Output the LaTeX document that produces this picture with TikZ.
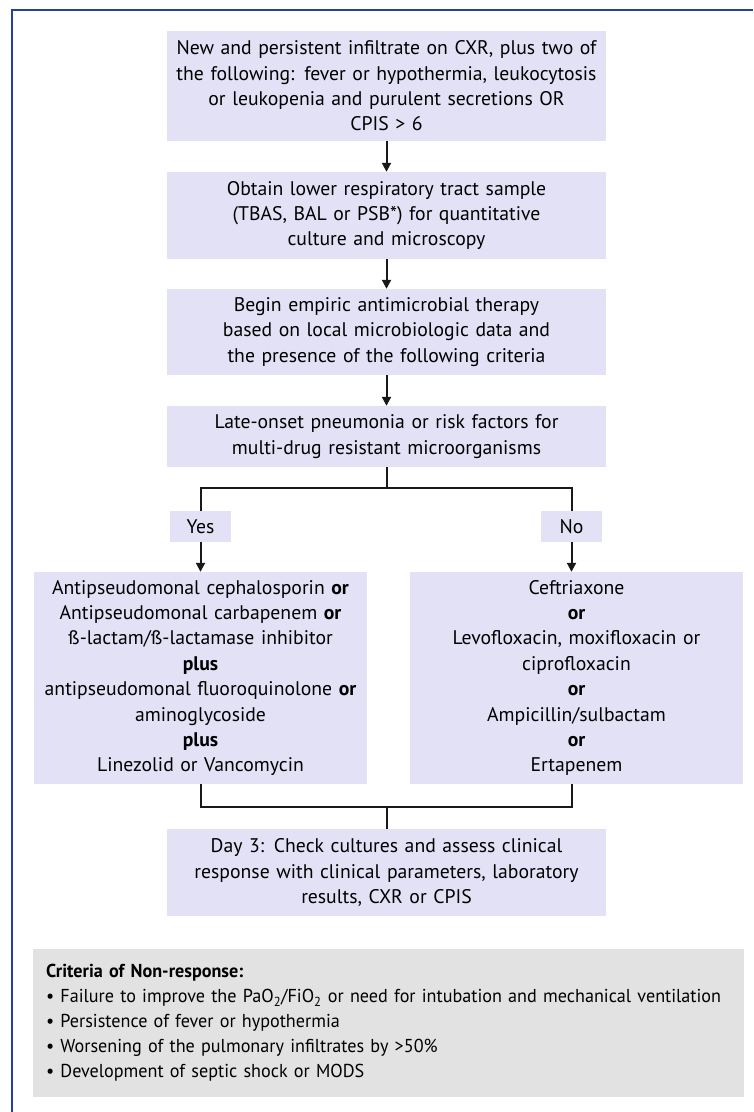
\documentclass[tikz,border=0pt]{standalone}
\usepackage{fontspec}
\setmainfont[WordSpace=0.82]{PT Sans}
\newfontfamily\condfont[FakeStretch=0.97,WordSpace=0.82]{PT Sans}
\usetikzlibrary{arrows.meta,calc}
\definecolor{boxfill}{RGB}{227,225,245}
\definecolor{grayfill}{RGB}{225,226,225}
\definecolor{frameblue}{RGB}{42,62,155}
\begin{document}
\begin{tikzpicture}[x=1pt,y=-1pt,
  flowbox/.style={fill=boxfill,inner sep=0pt,align=center,font=\fontsize{19.7}{25.4}\selectfont},
  tag/.style={fill=boxfill,inner sep=0pt,minimum width=61pt,minimum height=31pt,font=\fontsize{19.7}{22}\selectfont},
  conn/.style={line width=2pt,black!90},
  arr/.style={conn,-{Triangle[length=9pt,width=9pt]}}]
\useasboundingbox (0,0) rectangle (753,1112);
% frame
\draw[frameblue,line width=2.6pt] (12,1112) -- (12,10) -- (753,10);
% nodes
\node[flowbox,minimum width=439pt,minimum height=110pt,text width=436pt] (b1) at (386.5,86)
  {New and persistent infiltrate on CXR, plus two of\\the following: fever or hypothermia, leukocytosis\\or leukopenia and purulent secretions OR\\CPIS > 6};
\node[flowbox,minimum width=439pt,minimum height=87pt,text width=436pt] (b2) at (386.5,215.5)
  {Obtain lower respiratory tract sample\\(TBAS, BAL or PSB*) for quantitative\\culture and microscopy};
\node[flowbox,minimum width=439pt,minimum height=86pt,text width=436pt] (b3) at (386.5,332)
  {Begin empiric antimicrobial therapy\\based on local microbiologic data and\\the presence of the following criteria};
\node[flowbox,minimum width=439pt,minimum height=61pt,text width=436pt] (b4) at (386.5,436.5)
  {Late-onset pneumonia or risk factors for\\multi-drug resistant microorganisms};
\node[tag] (yes) at (200.5,526.5) {Yes};
\node[tag] (no) at (571.5,526.5) {No};
\node[flowbox,minimum width=333pt,minimum height=212pt,text width=330pt] (L) at (200.5,678)
  {Antipseudomonal cephalosporin \textbf{or}\\Antipseudomonal carbapenem \textbf{or}\\ß-lactam/ß-lactamase inhibitor\\\textbf{plus}\\antipseudomonal fluoroquinolone \textbf{or}\\aminoglycoside\\\textbf{plus}\\Linezolid or Vancomycin};
\node[flowbox,minimum width=333pt,minimum height=212pt,text width=330pt] (R) at (576.5,678)
  {Ceftriaxone\\\textbf{or}\\Levofloxacin, moxifloxacin or\\ciprofloxacin\\\textbf{or}\\Ampicillin/sulbactam\\\textbf{or}\\Ertapenem};
\node[flowbox,minimum width=439pt,minimum height=87pt,text width=436pt] (d3) at (386.5,872.5)
  {Day 3: Check cultures and assess clinical\\response with clinical parameters, laboratory\\results, CXR or CPIS};
\node[fill=grayfill,inner sep=0pt,minimum width=711pt,minimum height=148pt,text width=685pt,align=left,
  font=\condfont\fontsize{18.7}{25}\selectfont] (crit) at (388.5,1023)
  {\textbf{Criteria of Non-response:}\\
   • Failure to improve the PaO\textsubscript{2}/FiO\textsubscript{2} or need for intubation and mechanical ventilation\\
   • Persistence of fever or hypothermia\\
   • Worsening of the pulmonary infiltrates by >50\%\\
   • Development of septic shock or MODS};
% connectors
\draw[arr] (b1.south) -- (b2.north);
\draw[arr] (b2.south) -- (b3.north);
\draw[arr] (b3.south) -- (b4.north);
\coordinate (s1) at (386.5,488);
\draw[conn] (b4.south) -- (s1);
\draw[conn] (yes.north) |- (s1) -| (no.north);
\draw[arr] (yes.south) -- (L.north);
\draw[arr] (no.south) -- (no.south |- R.north);
\coordinate (s2) at (386.5,807);
\draw[conn] (L.south) |- (s2);
\draw[conn] (R.south -| no.south) |- (s2);
\draw[conn] (s2) -- (d3.north);
\end{tikzpicture}
\end{document}
